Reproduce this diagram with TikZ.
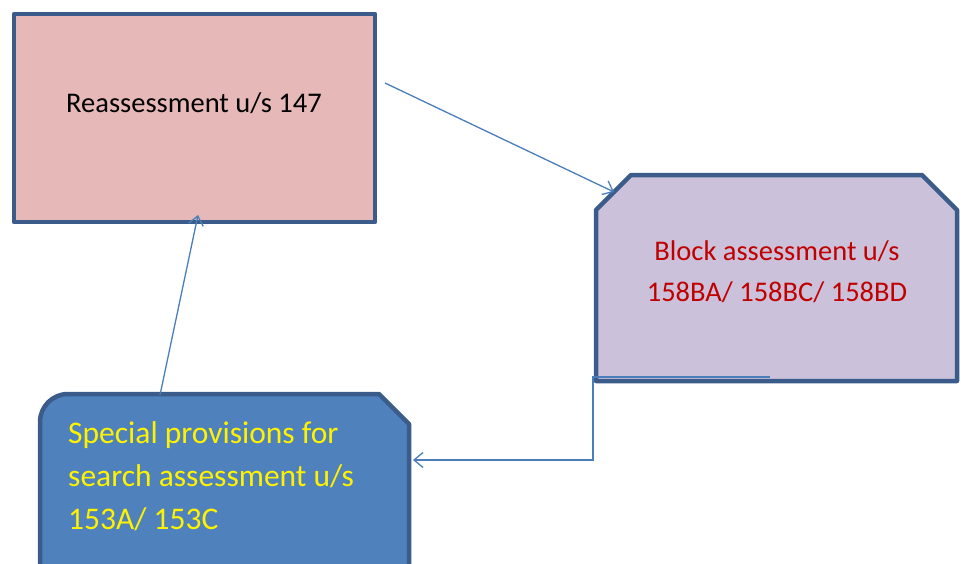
\documentclass[tikz,border=0pt]{standalone}
\usepackage{fontspec}
\setmainfont{Carlito}
\usetikzlibrary{arrows.meta}
\definecolor{bordc}{HTML}{3B5C8A}
\definecolor{pinkf}{HTML}{E6B9B8}
\definecolor{lavf}{HTML}{CCC1DA}
\definecolor{bluef}{HTML}{4F81BD}
\definecolor{linec}{HTML}{4A7EBB}
\definecolor{redt}{HTML}{C00000}
\tikzset{
  boxshape/.style={draw=bordc, line width=4.5pt, line join=round},
  conn/.style={draw=linec, line width=1.3pt, -{Straight Barb[length=9pt,width=15pt,line width=1.3pt]}},
  txt/.style={inner sep=0pt, font=\fontsize{28.5}{41}\selectfont},
  txtb/.style={inner sep=0pt, font=\fontsize{31.5}{43}\selectfont}
}
\begin{document}
\begin{tikzpicture}[x=1pt,y=-1pt]
\useasboundingbox (0,0) rectangle (965,564);
% box 1
\path[boxshape, fill=pinkf] (14,14) rectangle (375,222);
\node[txt, text=black] (t1) at (194,103) {Reassessment u/s 147};
% box 2
\path[boxshape, fill=lavf] (596,210) -- (631,175) -- (922,175) -- (957,210) -- (957,381) -- (596,381) -- cycle;
\node[txt, text=redt, align=center] (t2) at (777,272) {Block assessment u/s\\158BA/ 158BC/ 158BD};
% box 3
\path[boxshape, fill=bluef] (40,620) -- (40,422) arc[start angle=180, end angle=270, radius=28] -- (379,394) -- (409,424) -- (409,620);
\node[txtb, text=yellow, align=left, anchor=north west] (t3) at (68,421) {Special provisions for\\search assessment u/s\\153A/ 153C};
% connector end points
\coordinate (a1s) at (385,83);
\coordinate (a1e) at (614,192);
\coordinate (a2s) at (160,395);
\coordinate (a2e) at (198,215);
\coordinate (a3s) at (770,377);
\coordinate (a3m) at (593,377);
\coordinate (a3n) at (593,460);
\coordinate (a3e) at (413,460);
\draw[conn] (a1s) -- (a1e);
\draw[conn] (a2s) -- (a2e);
\draw[conn] (a3s) -- (a3m) -- (a3n) -- (a3e);
\end{tikzpicture}
\end{document}
